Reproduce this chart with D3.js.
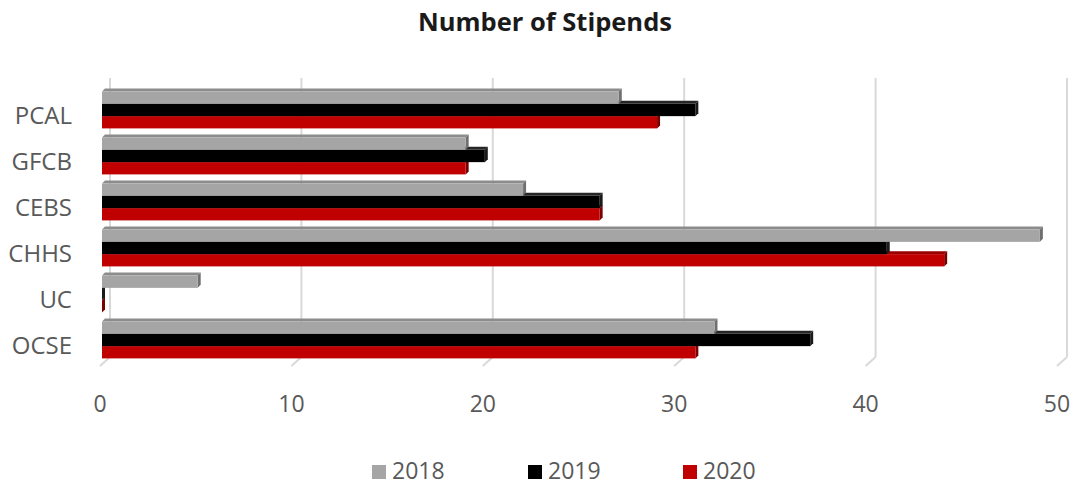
<!DOCTYPE html>
<html>
<head>
<meta charset="utf-8">
<script src="https://cdn.jsdelivr.net/npm/d3@7"></script>
<style>
  body { margin: 0; background: #fff; }
  text { font-family: "Open Sans", sans-serif; fill: #595959; }
</style>
</head>
<body>
<svg id="chart" width="1074" height="485"></svg>
<script>
var categories = ["PCAL", "GFCB", "CEBS", "CHHS", "UC", "OCSE"];
var years = ["2018", "2019", "2020"];
var v2018 = [27, 19, 22, 49, 5, 32];
var v2019 = [31, 20, 26, 41, 0, 37];
var v2020 = [29, 19, 26, 44, 0, 31];
var ticks = [0, 10, 20, 30, 40, 50];

var colors = { "2018": "#a5a5a5", "2019": "#000000", "2020": "#c00000" };
var sideColors = { "2018": "#6f6f6f", "2019": "#1a1a1a", "2020": "#7a0000" };
var topColors = { "2018": "#8c8c8c", "2019": "#262626", "2020": "#990000" };

var svg = d3.select("#chart");

// front plane of the bars, back plane of the grid is shifted up-right
var depthX = 9, depthY = 9;   // floor depth
var barDx = 3, barDy = 3;     // bar depth

var x = d3.scaleLinear().domain([0, 50]).range([102, 1059]);
var y = d3.scaleBand().domain(categories).range([87, 363]).paddingInner(0.2).paddingOuter(0.1);
var yInner = d3.scaleBand().domain(years).range([0, y.bandwidth()]);

var backTop = 78, backBottom = 357;

// gridlines (back wall) with floor feet
var grid = svg.append("g");
ticks.forEach(function(t){
  var gx = x(t) + 8;
  grid.append("line")
    .attr("x1", gx).attr("x2", gx)
    .attr("y1", backTop).attr("y2", backBottom)
    .attr("stroke", "#d9d9d9").attr("stroke-width", 2);
  grid.append("line")
    .attr("x1", gx).attr("x2", gx - depthX - 1)
    .attr("y1", backBottom).attr("y2", backBottom + depthY)
    .attr("stroke", "#d9d9d9").attr("stroke-width", 2);
});

// tick labels
svg.append("g").selectAll("text").data(ticks).enter().append("text")
  .attr("x", function(d){ return x(d) - 2; })
  .attr("y", 412)
  .attr("text-anchor", "middle")
  .attr("font-size", 23)
  .text(function(d){ return d; });

// category labels
svg.append("g").selectAll("text").data(categories).enter().append("text")
  .attr("x", 72)
  .attr("y", function(d){ return y(d) + y.bandwidth() / 2 + 14; })
  .attr("text-anchor", "end")
  .attr("font-size", 24)
  .text(function(d){ return d; });

// bars, drawn bottom (2020) first so upper bars cover the lower top faces
var series = { "2018": v2018, "2019": v2019, "2020": v2020 };
var bars = svg.append("g");
categories.forEach(function(c, i){
  years.slice().reverse().forEach(function(yr){
    var v = series[yr][i];
    var x0 = x(0), x1 = x(v);
    var y0 = y(c) + yInner(yr), h = yInner.bandwidth();
    // top face
    bars.append("path")
      .attr("d", "M" + x0 + "," + y0 + "L" + (x0 + barDx) + "," + (y0 - barDy) +
                 "L" + (x1 + barDx) + "," + (y0 - barDy) + "L" + x1 + "," + y0 + "Z")
      .attr("fill", topColors[yr]);
    // side face
    bars.append("path")
      .attr("d", "M" + x1 + "," + y0 + "L" + (x1 + barDx) + "," + (y0 - barDy) +
                 "L" + (x1 + barDx) + "," + (y0 + h - barDy) + "L" + x1 + "," + (y0 + h) + "Z")
      .attr("fill", sideColors[yr]);
    // front face
    bars.append("rect")
      .attr("x", x0).attr("y", y0)
      .attr("width", x1 - x0).attr("height", h)
      .attr("fill", colors[yr]);
  });
});

// title
svg.append("text")
  .attr("x", 545).attr("y", 31)
  .attr("text-anchor", "middle")
  .attr("font-size", 25.5)
  .attr("font-weight", "bold")
  .style("fill", "#1a1a1a")
  .text("Number of Stipends");

// legend
var legendX = [372, 528, 683];
var legend = svg.append("g").selectAll("g").data(years).enter().append("g")
  .attr("transform", function(d, i){ return "translate(" + legendX[i] + ",0)"; });
legend.append("rect")
  .attr("x", 0).attr("y", 465).attr("width", 14).attr("height", 14)
  .attr("fill", function(d){ return colors[d]; });
legend.append("text")
  .attr("x", 20).attr("y", 479)
  .attr("font-size", 23)
  .text(function(d){ return d; });
</script>
</body>
</html>
